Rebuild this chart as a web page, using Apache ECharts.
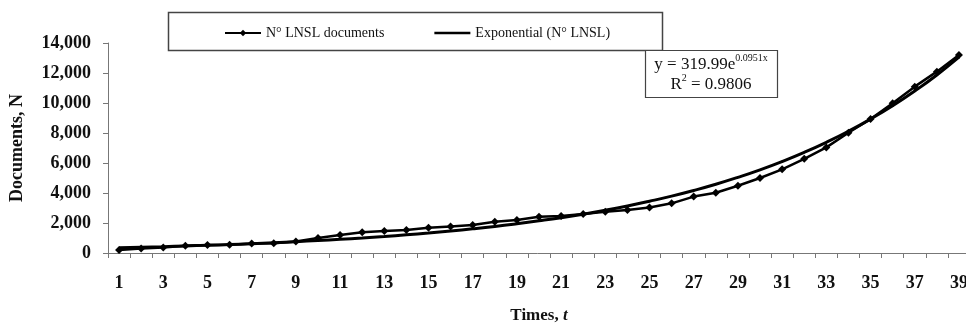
<!DOCTYPE html>
<html><head><meta charset="utf-8">
<script src="https://cdn.jsdelivr.net/npm/echarts@6/dist/echarts.min.js"></script>
<style>html,body{margin:0;padding:0;background:#fff}#c{width:966px;height:327px}</style>
</head><body><div id="c"></div>
<script>
const categories = ['1','2','3','4','5','6','7','8','9','10','11','12','13','14','15','16','17','18','19','20','21','22','23','24','25','26','27','28','29','30','31','32','33','34','35','36','37','38','39'];
const documents = [200,300,370,480,540,550,640,650,770,1000,1200,1380,1470,1530,1690,1760,1870,2090,2200,2420,2470,2600,2750,2870,3040,3310,3760,4020,4480,5000,5580,6280,7040,8020,8930,9980,11090,12090,13200];
const trend = [350,390,425,470,515,565,620,685,755,830,910,1000,1100,1210,1330,1465,1610,1770,1950,2145,2355,2590,2850,3135,3450,3790,4170,4585,5045,5545,6100,6710,7380,8115,8925,9815,10795,11870,13055];
const yTicks = [0,2000,4000,6000,8000,10000,12000,14000];
const seriesNames = ['N° LNSL documents','Exponential (N° LNSL)'];
const equationText = ['y = 319.99e', '0.0951x', 'R', '2', ' = 0.9806'];

const serif = '"Liberation Serif", "Times New Roman", serif';
const chart = echarts.init(document.getElementById('c'));
chart.setOption({
  animation: false,
  backgroundColor: '#fff',
  grid: {left: 108, top: 43, width: 862, height: 210, containLabel: false, outerBoundsMode: 'none'},
  legend: {
    left: 219, top: 21, itemGap: 50, itemWidth: 36, itemHeight: 8,
    textStyle: {fontFamily: serif, fontSize: 14, color: '#111'},
    data: [{name: seriesNames[0]}, {name: seriesNames[1], icon: 'path://M0,0 L36,0 L36,2.5 L0,2.5 Z'}]
  },
  xAxis: {
    type: 'category', data: categories, boundaryGap: true,
    axisLine: {lineStyle: {color: '#777', width: 1}},
    axisTick: {show: true, length: 5, lineStyle: {color: '#777'}, interval: 0},
    axisLabel: {interval: 1, margin: 21, fontFamily: serif, fontWeight: 'bold', fontSize: 18, color: '#111'},
    name: '{a|Times, }{b|t}', nameLocation: 'middle', nameGap: 54,
    nameTextStyle: {rich: {a: {fontFamily: serif, fontWeight: 'bold', fontSize: 17, color: '#111'}, b: {fontFamily: serif, fontWeight: 'bold', fontStyle: 'italic', fontSize: 17, color: '#111'}}}
  },
  yAxis: {
    type: 'value', min: yTicks[0], max: yTicks[yTicks.length-1], interval: 2000,
    splitLine: {show: false},
    axisLine: {show: true, lineStyle: {color: '#777', width: 1}},
    axisTick: {show: true, length: 5, lineStyle: {color: '#777'}},
    axisLabel: {margin: 17, fontFamily: serif, fontWeight: 'bold', fontSize: 18, color: '#111',
      formatter: v => v.toLocaleString('en-US')},
    name: 'Documents, N', nameLocation: 'middle', nameGap: 82, nameRotate: 90,
    nameTextStyle: {fontFamily: serif, fontWeight: 'bold', fontSize: 18, color: '#111'}
  },
  series: [
    {name: seriesNames[0], type: 'line', data: documents, symbol: 'diamond', symbolSize: 8,
     lineStyle: {color: '#000', width: 2.5}, itemStyle: {color: '#000'}, z: 3},
    {name: seriesNames[1], type: 'line', data: trend, symbol: 'none', smooth: true,
     lineStyle: {color: '#000', width: 3}, itemStyle: {color: '#000'}, z: 2}
  ],
  graphic: [
    {type: 'rect', shape: {x: 168.5, y: 12.5, width: 494, height: 38}, style: {fill: 'none', stroke: '#444', lineWidth: 1.5}, z: 10},
    {type: 'rect', shape: {x: 645.5, y: 50.5, width: 132, height: 47}, style: {fill: '#fff', stroke: '#444', lineWidth: 1.2}, z: 10},
    {type: 'text', x: 711, y: 53, z: 11, style: {
      text: '{t|' + equationText[0] + '}{s|' + equationText[1] + '}\n{t|' + equationText[2] + '}{s|' + equationText[3] + '}{t|' + equationText[4] + '}',
      align: 'center', fill: '#111',
      rich: {t: {fontFamily: serif, fontSize: 17, color: '#111', verticalAlign: 'bottom', lineHeight: 20},
             s: {fontFamily: serif, fontSize: 10, color: '#111', verticalAlign: 'top', lineHeight: 20}}
    }}
  ]
});
</script></body></html>
